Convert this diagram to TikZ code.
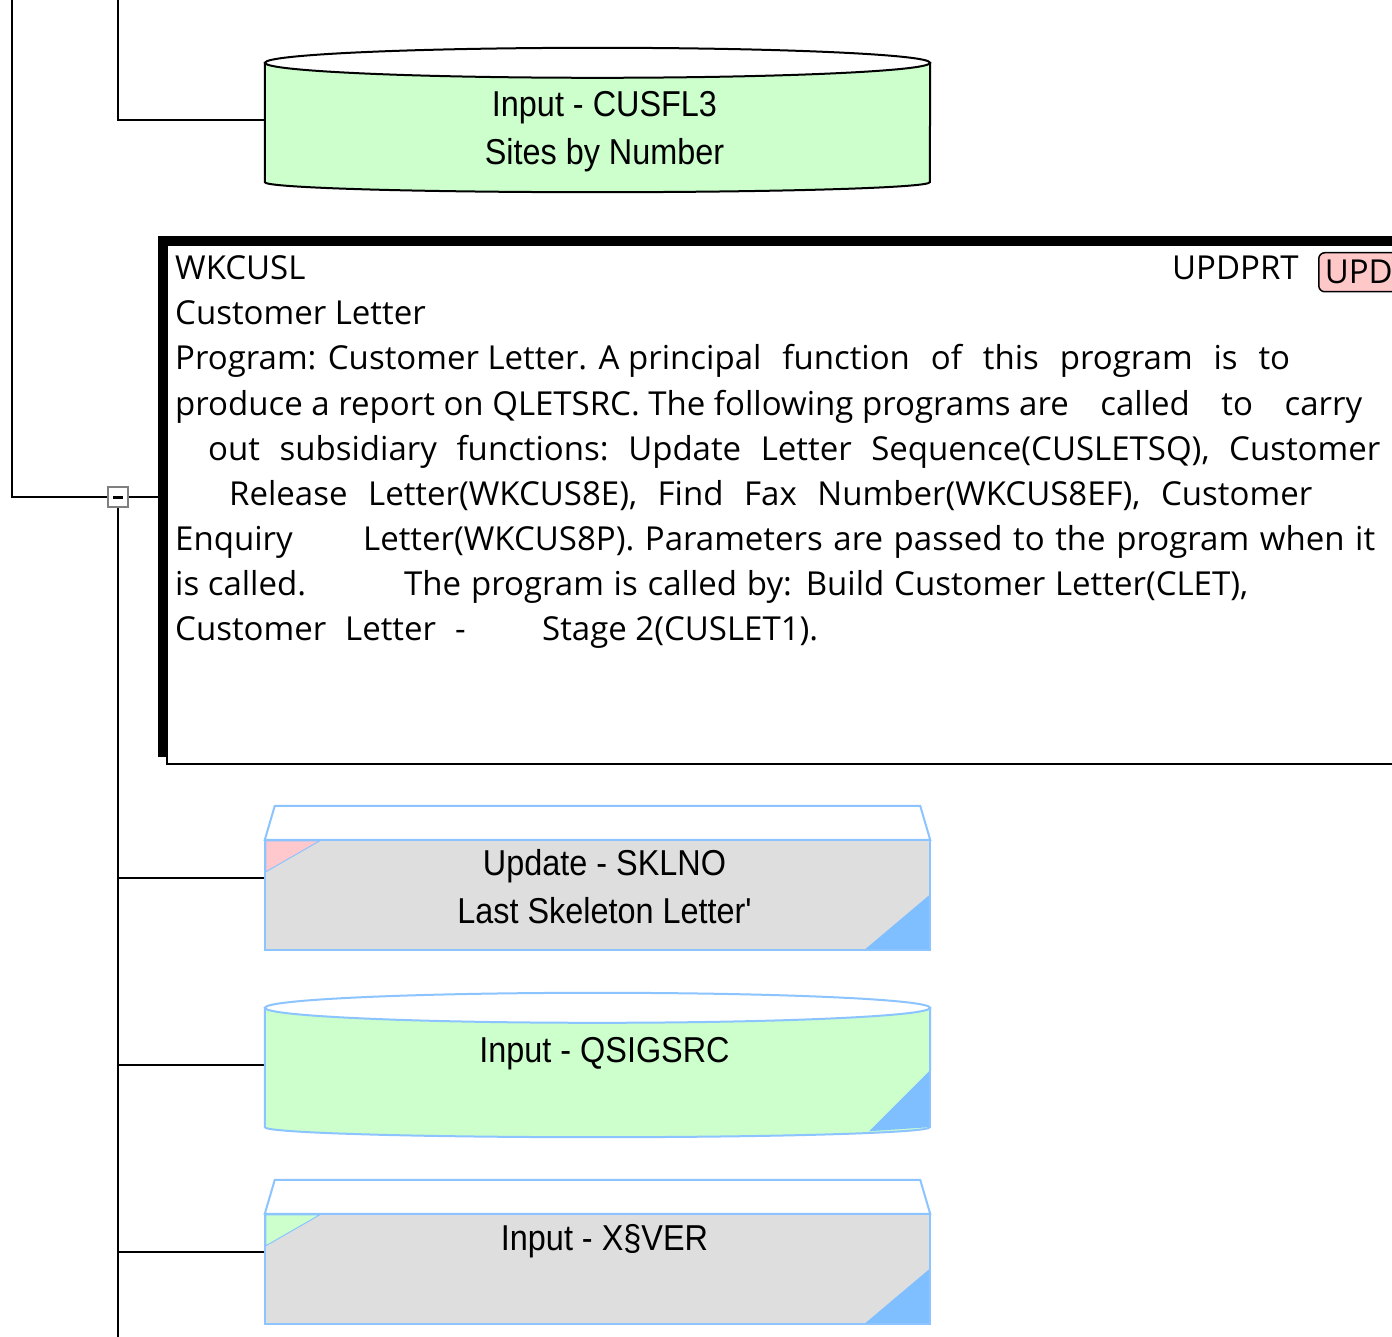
\documentclass[tikz,border=0pt]{standalone}
\usepackage{fontspec}
\setmainfont{Open Sans}
\newfontfamily\filefont[FakeStretch=0.9]{Liberation Sans}

\definecolor{drumgreen}{HTML}{CCFFCC}
\definecolor{cardgrey}{HTML}{DEDEDE}
\definecolor{edgeblue}{HTML}{8CC4FF}
\definecolor{cornerblue}{HTML}{80BFFF}
\definecolor{tagpink}{HTML}{FFC8C8}
\definecolor{flagpink}{HTML}{FFC8CC}

\newcommand{\filedrum}[2]{%
\filldraw[line width=2pt,draw=#2,fill=drumgreen]([shift={(0,15)}]#1.north west)--([shift={(0,-10)}]#1.south west)arc[start angle=180,end angle=0,x radius=332.5,y radius=10]--([shift={(0,15)}]#1.north east)--cycle;
\filldraw[line width=2pt,draw=#2,fill=white]([shift={(0,15)}]#1.north)ellipse[x radius=332.5,y radius=15];}

\newcommand{\filecard}[3]{%
\filldraw[line width=2pt,draw=#2,fill=white]([shift={(0,34)}]#1.north west)--([shift={(10,0)}]#1.north west)--([shift={(-10,0)}]#1.north east)--([shift={(0,34)}]#1.north east)--cycle;
\fill[cardgrey]([shift={(0,34)}]#1.north west)rectangle(#1.south east);
\filldraw[fill=#3,draw=#2,line width=1pt]([shift={(1,35)}]#1.north west)--++(54,0)--++(-54,31)--cycle;
\fill[cornerblue]([shift={(-1,-1)}]#1.south east)--++(0,-54)--++(-64,54)--cycle;
\draw[line width=2pt,draw=#2]([shift={(0,34)}]#1.north west)rectangle(#1.south east);}

\tikzset{
conn/.style={line width=2pt},
filearea/.style={minimum width=665pt,minimum height=144pt,inner sep=0pt},
filetext/.style={anchor=base,inner sep=0pt,font=\filefont\fontsize{36}{44}\selectfont},
progtext/.style={anchor=base west,inner sep=0pt,font=\fontsize{33}{40}\selectfont},
progbox/.style={anchor=north west,draw,fill=white,line width=2pt,minimum width=1234pt,minimum height=519pt,inner sep=0pt},
modetag/.style={anchor=north west,draw,fill=tagpink,line width=1.5pt,rounded corners=6pt,minimum height=39pt,text width=90pt,inner xsep=6pt,inner ysep=0pt,font=\fontsize{33}{40}\selectfont},
foldbox/.style={draw=gray,fill=white,line width=2pt,minimum size=20pt,inner sep=0pt}
}

\begin{document}
\begin{tikzpicture}[x=1pt,y=-1pt]
\useasboundingbox(0,0)rectangle(1392,1337);
\fill[white](0,0)rectangle(1392,1337);
\clip(0,0)rectangle(1392,1337);
\coordinate(railL)at(12,0);
\coordinate(railR)at(118,0);
\coordinate(railEnd)at(118,1337);
\node[filearea](cusfl3)at(597.5,120){};
\node[progbox](wkcusl)at(166,244){};
\node[filearea](sklno)at(597.5,878){};
\node[filearea](qsigsrc)at(597.5,1065){};
\node[filearea](xsver)at(597.5,1252){};

\draw[conn](railL)|-(118,497);
\draw[conn](railR)|-(cusfl3.west);
\draw[conn](118,497)--(166,497);
\draw[conn](118,497)--(railEnd);
\foreach \n in {sklno,qsigsrc,xsver}
  \draw[conn](railEnd|-\n.west)--(\n.west);
\node[foldbox](fold)at(118,497){};
\draw[line width=3pt]([xshift=-5pt]fold.center)--([xshift=5pt]fold.center);

\filedrum{cusfl3}{black}
\node[filetext](cusfl3-a)at([shift={(7,-3)}]cusfl3.center){Input - CUSFL3};
\node[filetext](cusfl3-b)at([shift={(7,45)}]cusfl3.center){Sites by Number};

\fill([shift={(-8,-8)}]wkcusl.north west)rectangle([shift={(-8,-8)}]wkcusl.south east);
\node[progbox]at(wkcusl.north west){};
\node[progtext](pname)at(175,280){WKCUSL};
\node[progtext](ptype)at(1172,280){UPDPRT};
\node[modetag](pmode)at(1318,252){UPD};
\node[progtext](ptitle)at(175,325){Customer Letter};
\node[progtext](pl1)at(175,370){\makebox[1115pt][s]{Program: Customer Letter. A principal\hfill function\hfill of\hfill this\hfill program\hfill is\hfill to}};
\node[progtext](pl2)at(175,415){\makebox[1187pt][s]{produce a report on QLETSRC. The following programs are\hfill called\hfill to\hfill carry}};
\node[progtext](pl3)at(208,460){\makebox[1172pt][s]{out\hfill subsidiary\hfill functions:\hfill Update\hfill Letter\hfill Sequence(CUSLETSQ),\hfill Customer}};
\node[progtext](pl4)at(229,505){\makebox[1083pt][s]{Release\hfill Letter(WKCUS8E),\hfill Find\hfill Fax\hfill Number(WKCUS8EF),\hfill Customer}};
\node[progtext](pl5a)at(175,550){Enquiry};
\node[progtext](pl5b)at(363,550){\makebox[1012pt][s]{Letter(WKCUS8P). Parameters are passed to the program when it}};
\node[progtext](pl6a)at(175,595){is called.};
\node[progtext](pl6b)at(404,595){\makebox[844pt][s]{The program is called by: Build Customer Letter(CLET),}};
\node[progtext](pl7a)at(175,640){Customer};
\node[progtext](pl7b)at(345,640){Letter};
\node[progtext](pl7c)at(455,640){-};
\node[progtext](pl7d)at(542,640){Stage 2(CUSLET1).};

\filecard{sklno}{edgeblue}{flagpink}
\node[filetext](sklno-a)at([shift={(7,-3)}]sklno.center){Update - SKLNO};
\node[filetext](sklno-b)at([shift={(7,45)}]sklno.center){Last Skeleton Letter'};

\filedrum{qsigsrc}{edgeblue}
\fill[cornerblue]([shift={(-1,-10)}]qsigsrc.south east)--++(0,-56)--++(-60,60)--cycle;
\node[filetext](qsigsrc-a)at([shift={(7,-3)}]qsigsrc.center){Input - QSIGSRC};

\filecard{xsver}{edgeblue}{drumgreen}
\node[filetext](xsver-a)at([shift={(7,-2)}]xsver.center){Input - X§VER};
\end{tikzpicture}
\end{document}
